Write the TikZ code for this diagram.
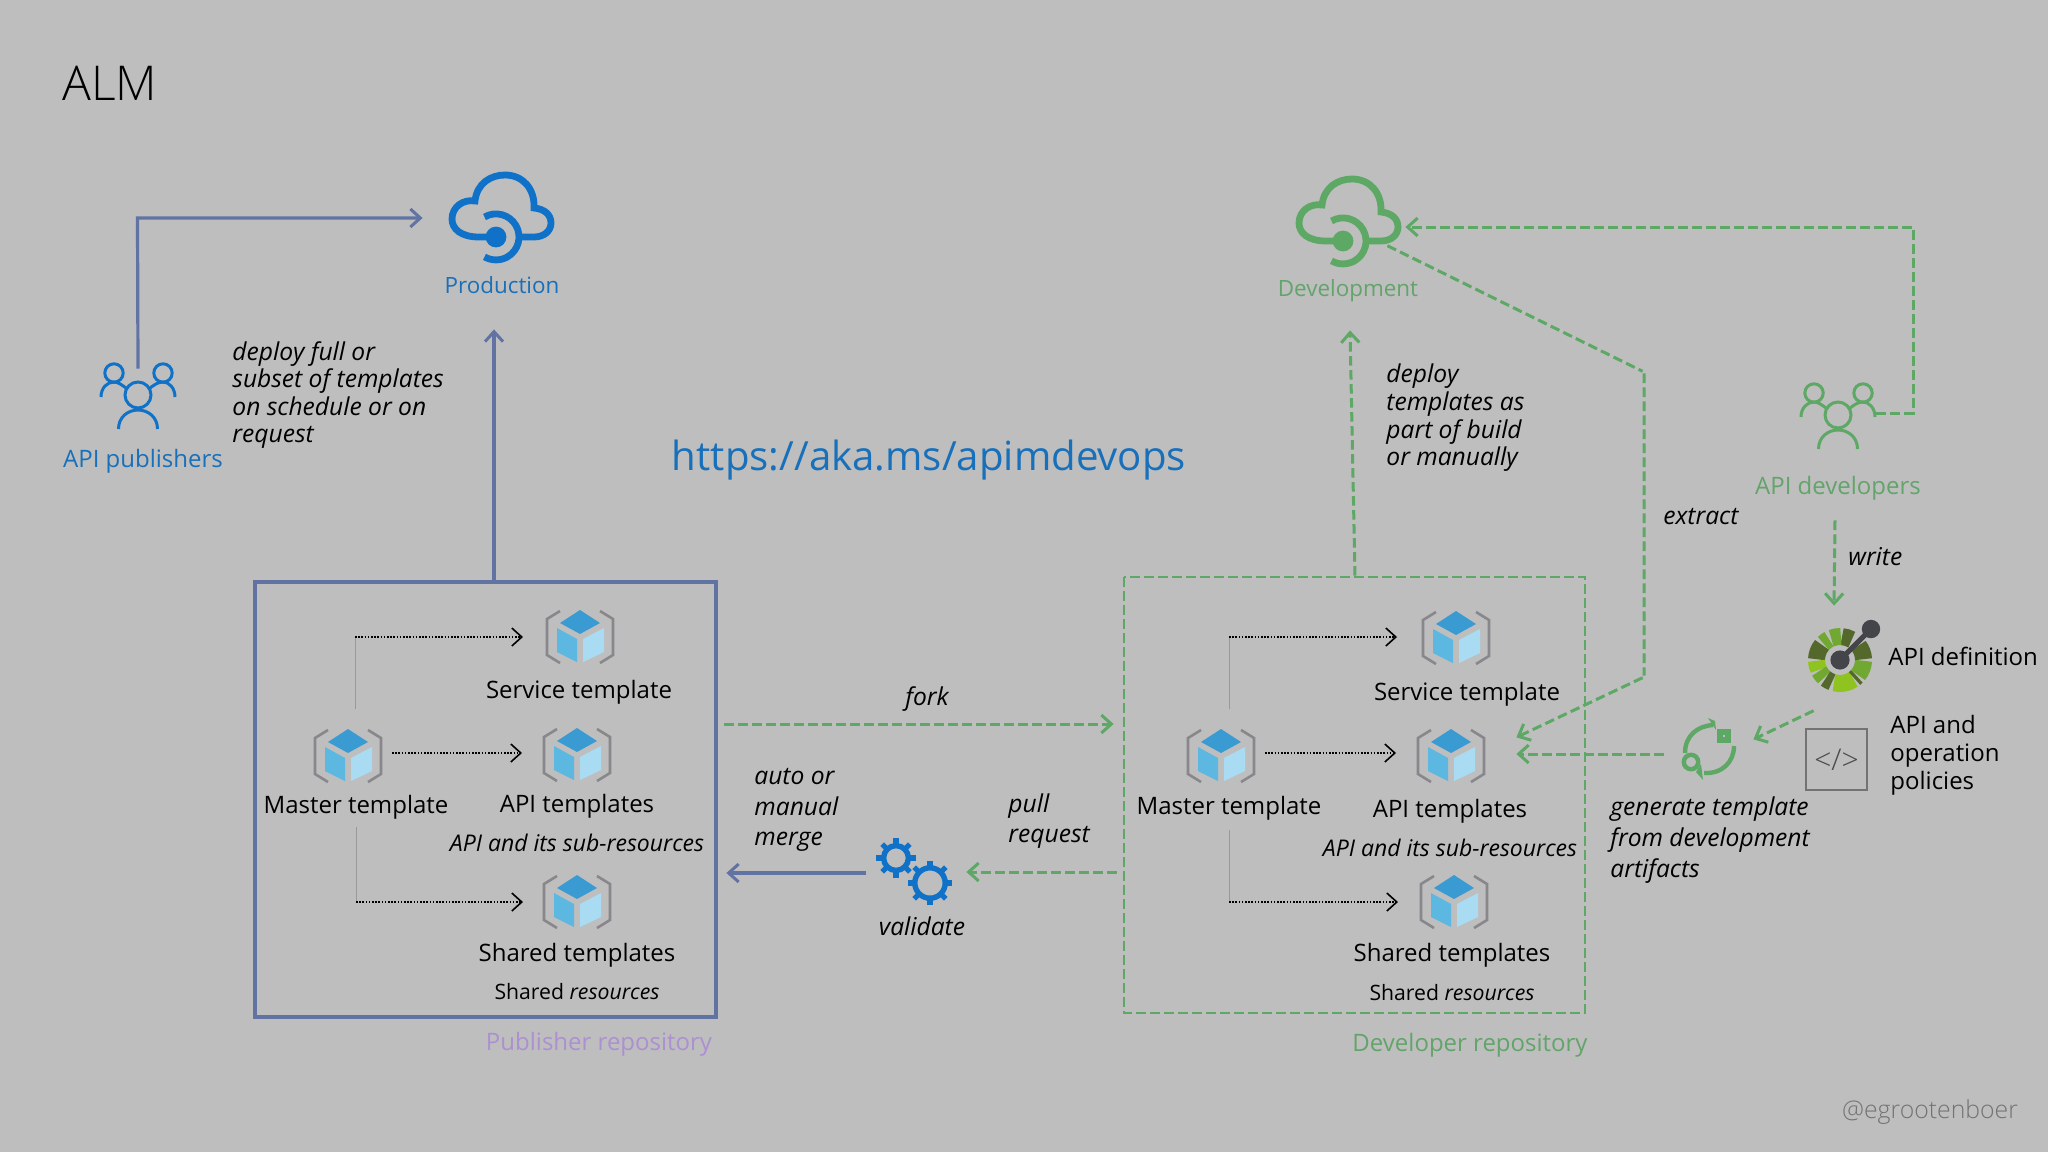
\documentclass[tikz,border=0pt]{standalone}
\usepackage{fontspec}
\usepackage{tikz}
\usetikzlibrary{arrows.meta,positioning}
\setmainfont{Open Sans}
\newfontfamily\lightfont{Open Sans Light}
\definecolor{canvas}{RGB}{190,190,190}
\definecolor{azure}{RGB}{15,114,200}
\definecolor{azuretext}{RGB}{24,112,186}
\definecolor{slate}{RGB}{96,115,163}
\definecolor{leaf}{RGB}{92,168,100}
\definecolor{leaftext}{RGB}{98,164,106}
\definecolor{lilac}{RGB}{172,144,210}
\definecolor{cubetop}{RGB}{58,154,210}
\definecolor{cubeleft}{RGB}{92,184,224}
\definecolor{cuberight}{RGB}{169,220,242}
\definecolor{bracket}{RGB}{136,136,140}
\definecolor{oasdark}{RGB}{85,104,44}
\definecolor{oasmid}{RGB}{112,168,50}
\definecolor{oaslight}{RGB}{143,195,31}
\definecolor{stick}{RGB}{68,69,74}
\tikzset{
    txt/.style={font=\fontsize{12}{14}\selectfont, inner sep=0pt, text=black},
    envtxt/.style={font=\fontsize{11.2}{13.5}\selectfont, inner sep=0pt},
    note/.style={font=\fontsize{12.3}{13.8}\selectfont\itshape, inner sep=0pt, align=left, anchor=west, text=black},
    wide note/.style={note, font=\fontsize{12.3}{15.3}\selectfont\itshape},
    smallnote/.style={font=\fontsize{10.6}{12}\selectfont, inner sep=0pt, text=black},
    subnote/.style={font=\fontsize{11.5}{13}\selectfont\itshape, inner sep=0pt, text=black},
    spot/.style={inner sep=0pt, minimum size=1pt},
    repo/.style={draw=slate, line width=1.6pt},
    devrepo/.style={draw=leaf, line width=1.4pt, dash pattern=on 4.8pt off 2.2pt},
    pubflow/.style={draw=slate, line width=1.6pt, -{Straight Barb[length=5pt,width=9pt,line width=1.5pt]}},
    devflow/.style={draw=leaf, line width=1.5pt, dash pattern=on 4.8pt off 2.2pt, -{Straight Barb[length=5pt,width=9pt,line width=1.5pt,sep=0pt]}},
    link/.style={draw=black, line width=0.9pt, dash pattern=on 0.8pt off 0.8pt, -{Straight Barb[length=5pt,width=9pt,line width=0.8pt]}},
    stem/.style={draw=black!40, line width=0.4pt},
    cube icon/.pic={
        \draw[bracket, line width=1.3pt] (-20,-26) -- (-33,-18) -- (-33,18) -- (-20,26);
        \draw[bracket, line width=1.3pt] (20,-26) -- (33,-18) -- (33,18) -- (20,26);
        \fill[cubetop] (0,-27) -- (20,-14) -- (0,-3) -- (-20,-14) -- cycle;
        \fill[cubeleft] (-23,-9) -- (-3,2) -- (-3,25) -- (-23,15) -- cycle;
        \fill[cuberight] (3,2) -- (24,-9) -- (24,15) -- (3,25) -- cycle;
    },
    people icon/.pic={
        \draw[line width=1.5pt] (0,-2) circle[radius=6.5pt];
        \draw[line width=1.5pt] (-19.5,32) .. controls (-19.5,20) and (-10,13) .. (0,13) .. controls (10,13) and (19.5,20) .. (19.5,32);
        \draw[line width=1.5pt] (-24,-24) circle[radius=4.6pt];
        \draw[line width=1.5pt] (25,-24) circle[radius=4.6pt];
        \draw[line width=1.5pt] (-37,0) .. controls (-37,-9) and (-31,-15) .. (-24,-15) .. controls (-20,-15) and (-16,-12) .. (-12,-9);
        \draw[line width=1.5pt] (37,0) .. controls (37,-9) and (31,-15) .. (25,-15) .. controls (20,-15) and (16,-12) .. (12,-9);
    },
    cloud icon/.pic={
        \draw[line width=3.4pt] (-5,20) -- (-22,20) .. controls (-40,20) and (-49,12) .. (-49,2)
            .. controls (-49,-10) and (-38,-18) .. (-26,-16) .. controls (-24,-34) and (-10,-42) .. (4,-42)
            .. controls (22,-42) and (34,-28) .. (33,-9) .. controls (44,-8) and (50,-2) .. (50,6)
            .. controls (50,14) and (43,20) .. (33,20) -- (18,20);
        \fill (-5,20) circle[radius=5.2pt];
        \draw[line width=3.4pt] (-16.5,0) arc[start angle=120, end angle=-120, radius=11.5pt];
    },
    gear icon/.pic={
        \draw[line width=2.7pt] (0,0) circle[radius=#1pt];
        \foreach \a in {0,45,...,315}
            \draw[line width=2.6pt] (\a:#1pt) -- (\a:#1pt+3.6pt);
    },
    oas icon/.pic={
        \foreach \s/\e/\c in {60/85/oasdark, 88/112/oasmid, 118/135/oasmid, 140/178/oasdark, 182/205/oaslight, 208/228/oasmid, 232/250/oasdark, 255/305/oaslight, 308/316/oasdark, 320/358/oasmid, 2/38/oasdark}
            \draw[\c, line width=8.5pt] (\s:11.75pt) arc[start angle=\s, end angle=\e, radius=11.75pt];
        \draw[stick, line width=2.6pt] (0,0) -- (31,-31);
        \fill[stick] (0,0) circle[radius=4.8pt];
        \fill[stick] (31,-31) circle[radius=4.6pt];
    },
    cycle icon/.pic={
        \draw[line width=2.2pt] (-24,5) .. controls (-24,-12) and (-12,-22) .. (4,-23);
        \fill (-1,-30) -- (7,-18) -- (6,-27) -- cycle;
        \draw[line width=2.2pt] (25,-2) .. controls (25,14) and (13,26) .. (-5,25);
        \fill (-8,16) -- (-6,32) -- (-13,24) -- cycle;
        \draw[line width=2.2pt] (-18,14) circle[radius=3.6pt];
        \draw[line width=3pt] (11,-16) rectangle (19,-8);
    }
}
\begin{document}
\begin{tikzpicture}[x=0.5pt, y=-0.5pt]
    \useasboundingbox[fill=canvas] (0,0) rectangle (2048,1152);
    \node[anchor=west, inner sep=0pt, font=\fontsize{24}{28}\selectfont\lightfont] (title) at (62,83) {ALM};
    \node[inner sep=0pt, font=\fontsize{20.1}{24}\selectfont, text=azuretext] (url) at (929,460) {https://aka.ms/apimdevops};
    \node[inner sep=0pt, font=\fontsize{12.4}{15}\selectfont\lightfont, text=black!55] (handle) at (1930,1112) {@egrootenboer};

    % publisher side
    \draw[repo] (255,582) rectangle (716,1017);
    \pic[azure] at (501,217) {cloud icon};
    \node[spot] (prod) at (424,218) {};
    \node[spot] (prodbelow) at (494,328) {};
    \node[spot] (pubtop) at (494,582) {};
    \node[envtxt, text=azuretext] (prodlabel) at (502,285) {Production};
    \pic[azure] at (138,397) {people icon};
    \node[spot] (pubhead) at (138,370) {};
    \node[txt, text=azuretext] (publabel) at (143,461) {API publishers};
    \node[note] (deployfull) at (232,395) {deploy full or\\subset of templates\\on schedule or on\\request};
    \node[txt, text=lilac] (pubrepo) at (599,1044) {Publisher repository};

    \pic at (348,756) {cube icon};
    \pic at (580,637) {cube icon};
    \pic at (577,755) {cube icon};
    \pic at (577,902) {cube icon};
    \node[txt] (pubmaster) at (356,807) {Master template};
    \node[txt] (pubservice) at (579,692) {Service template};
    \node[txt] (pubapi) at (577,806) {API templates};
    \node[subnote] (pubsub) at (577,843) {API and its sub-resources};
    \node[txt] (pubshared) at (577,955) {Shared templates};
    \node[smallnote] (pubres) at (577,992) {Shared \textit{resources}};

    \draw[pubflow] (pubhead) -- (137.5,218) -- (prod);
    \draw[pubflow] (pubtop) -- (prodbelow);
    \draw[stem] (355,709) -- (355,637);
    \draw[link] (355,637) -- (523,637);
    \draw[link] (392,753) -- (522,753);
    \draw[stem] (356,827) -- (356,902);
    \draw[link] (356,902) -- (523,902);

    % developer side
    \draw[devrepo] (1124,577) rectangle (1585,1013);
    \pic[leaf] at (1348,221) {cloud icon};
    \node[spot] (dev) at (1404,227) {};
    \node[spot] (devfoot) at (1386,245) {};
    \node[spot] (devbelow) at (1350,329) {};
    \node[spot] (devtop) at (1355,577) {};
    \node[envtxt, text=leaftext] (devlabel) at (1348,291) {Development};
    \node[note] (deploybuild) at (1386,418) {deploy\\templates as\\part of build\\or manually};
    \pic[leaf] at (1838,417) {people icon};
    \node[spot] (devhands) at (1875,413) {};
    \node[txt, text=leaftext] (devslabel) at (1838,488) {API developers};
    \node[note] (extractlabel) at (1663,517) {extract};
    \node[note] (writelabel) at (1848,557) {write};
    \node[txt, text=leaftext] (devrepolabel) at (1470,1045) {Developer repository};

    \pic at (1221,756) {cube icon};
    \pic at (1456,638) {cube icon};
    \pic at (1451,756) {cube icon};
    \pic at (1454,902) {cube icon};
    \node[txt] (devmaster) at (1229,808) {Master template};
    \node[txt] (devservice) at (1467,694) {Service template};
    \node[txt] (devapi) at (1450,811) {API templates};
    \node[subnote] (devsub) at (1450,848) {API and its sub-resources};
    \node[txt] (devshared) at (1452,955) {Shared templates};
    \node[smallnote] (devres) at (1452,993) {Shared \textit{resources}};

    \draw[stem] (1229,709) -- (1229,637);
    \draw[link] (1229,637) -- (1397,637);
    \draw[link] (1265,753) -- (1396,753);
    \draw[stem] (1229,830) -- (1229,902);
    \draw[link] (1229,902) -- (1398,902);

    % artifacts on the right
    \pic at (1840,660) {oas icon};
    \node[spot] (oas) at (1815,710) {};
    \node[spot] (oasabove) at (1834,607) {};
    \node[spot] (devsfoot) at (1835,519) {};
    \node[txt, anchor=west] (oaslabel) at (1888,656) {API definition};
    \node[draw=black!55, line width=0.6pt, minimum size=30.5pt, inner sep=0pt, font=\fontsize{15}{17}\selectfont\lightfont, text=black!70] (policy) at (1836.5,759.5) {</>};
    \node[txt, anchor=west, align=left] (policylabel) at (1890,755) {API and\\operation\\policies};
    \pic[leaf] at (1709,748) {cycle icon};
    \node[spot] (genright) at (1752,740) {};
    \node[spot] (genleft) at (1665,754) {};
    \node[wide note] (genlabel) at (1610,840) {generate template\\from development\\artifacts};
    \node[spot] (apidev) at (1515,754) {};
    \node[spot] (apidevtop) at (1515,738) {};
    \node[spot] (turn) at (1644,372) {};
    \node[spot] (turnlow) at (1644,677) {};

    \draw[devflow] (devhands) -- (1913,413) -- (1913,227) -- (dev);
    \draw[devflow] (devfoot) -- (turn) -- (turnlow) -- (apidevtop);
    \draw[devflow] (devtop) -- (devbelow);
    \draw[devflow] (devsfoot) -- (oasabove);
    \draw[devflow] (oas) -- (genright);
    \draw[devflow] (genleft) -- (apidev);

    % between the repositories
    \pic[azure] at (896,858) {gear icon=6.2};
    \pic[azure] at (930,883) {gear icon=7.6};
    \node[spot] (forkstart) at (723,724) {};
    \node[spot] (forkend) at (1115,724) {};
    \node[spot] (pullstart) at (1118,872) {};
    \node[spot] (gearright) at (965,872) {};
    \node[spot] (gearleft) at (867,873) {};
    \node[spot] (mergeend) at (725,873) {};
    \node[note, anchor=center] (forklabel) at (927,699) {fork};
    \node[wide note] (mergelabel) at (754,810) {auto or\\manual\\merge};
    \node[wide note] (pulllabel) at (1008,821) {pull\\request};
    \node[note, anchor=center] (validatelabel) at (922,926) {validate};
    \draw[devflow] (forkstart) -- (forkend);
    \draw[devflow] (pullstart) -- (gearright);
    \draw[pubflow] (gearleft) -- (mergeend);
\end{tikzpicture}
\end{document}
